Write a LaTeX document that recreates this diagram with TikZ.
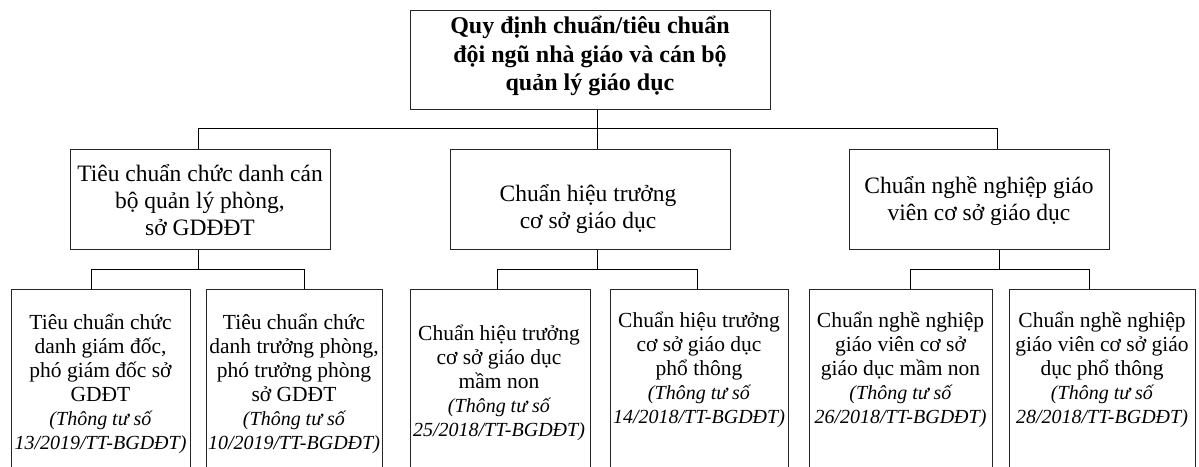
\documentclass[tikz,border=0pt]{standalone}
\usepackage{fontspec}
\setmainfont{Liberation Serif}
\newcommand\lawfont{\fontsize{20}{24}\selectfont\itshape}
\begin{document}
\begin{tikzpicture}[x=1pt,y=-1pt,
  box/.style={draw=black!85, line width=0.9pt, inner sep=0pt, anchor=north west},
  link/.style={draw=black, line width=1pt},
  toptxt/.style={align=center, inner sep=0pt, font=\fontsize{24}{28.5}\selectfont\bfseries},
  midtxt/.style={align=center, inner sep=0pt, font=\fontsize{23.5}{27}\selectfont},
  lowtxt/.style={align=center, inner sep=0pt, font=\fontsize{21.5}{24}\selectfont}]
\useasboundingbox (0,0) rectangle (1199,466);
\clip (0,0) rectangle (1199,466);

% top level
\node[box, minimum width=360, minimum height=99] (top) at (410,10) {};
\node[toptxt] (topt) at (590,56) {Quy định chuẩn/tiêu chuẩn\\đội ngũ nhà giáo và cán bộ\\quản lý giáo dục};

% second level
\node[box, minimum width=260, minimum height=100] (m1) at (70,149) {};
\node[box, minimum width=280, minimum height=100] (m2) at (450,149) {};
\node[box, minimum width=260, minimum height=100] (m3) at (849,149) {};
\node[midtxt] (m1t) at (200,200) {Tiêu chuẩn chức danh cán\\bộ quản lý phòng,\\sở GDĐĐT};
\node[midtxt] (m2t) at (588,209) {Chuẩn hiệu trưởng\\cơ sở giáo dục};
\node[midtxt] (m3t) at (979,201) {Chuẩn nghề nghiệp giáo\\viên cơ sở giáo dục};

% third level (boxes run past the lower edge)
\node[box, minimum width=179, minimum height=200] (b1) at (11,289) {};
\node[box, minimum width=176, minimum height=200] (b2) at (206,289) {};
\node[box, minimum width=180, minimum height=200] (b3) at (410,289) {};
\node[box, minimum width=178, minimum height=200] (b4) at (610,289) {};
\node[box, minimum width=183, minimum height=200] (b5) at (809,289) {};
\node[box, minimum width=186, minimum height=200] (b6) at (1009,289) {};

\node[lowtxt] (b1t) at (100.5,384) {Tiêu chuẩn chức\\danh giám đốc,\\phó giám đốc sở\\GDĐT\\{\lawfont (Thông tư số}\\{\lawfont 13/2019/TT-BGDĐT)}};
\node[lowtxt] (b2t) at (294,384) {Tiêu chuẩn chức\\danh trưởng phòng,\\phó trưởng phòng\\sở GDĐT\\{\lawfont (Thông tư số}\\{\lawfont 10/2019/TT-BGDĐT)}};
\node[lowtxt] (b3t) at (499,383) {Chuẩn hiệu trưởng\\cơ sở giáo dục\\mầm non\\{\lawfont (Thông tư số}\\{\lawfont 25/2018/TT-BGDĐT)}};
\node[lowtxt] (b4t) at (699,370) {Chuẩn hiệu trưởng\\cơ sở giáo dục\\phổ thông\\{\lawfont (Thông tư số}\\{\lawfont 14/2018/TT-BGDĐT)}};
\node[lowtxt] (b5t) at (900.5,370) {Chuẩn nghề nghiệp\\giáo viên cơ sở\\giáo dục mầm non\\{\lawfont (Thông tư số}\\{\lawfont 26/2018/TT-BGDĐT)}};
\node[lowtxt] (b6t) at (1102,370) {Chuẩn nghề nghiệp\\giáo viên cơ sở giáo\\dục phổ thông\\{\lawfont (Thông tư số}\\{\lawfont 28/2018/TT-BGDĐT)}};

% connectors: top -> second level
\draw[link] ([xshift=7pt]top.south) -- ([xshift=7pt]m2.north);
\draw[link] ([xshift=-2pt]m1.north) -- ++(0,-21) -| ([xshift=18pt]m3.north);

% connectors: second -> third level
\draw[link] ([xshift=-2pt]m1.south) -- ++(0,20);
\draw[link] ([xshift=-9.5pt]b1.north) -- ++(0,-20) -| ([xshift=10pt]b2.north);
\draw[link] ([xshift=7pt]m2.south) -- ++(0,20);
\draw[link] ([xshift=-3pt]b3.north) -- ++(0,-20) -| ([xshift=-2pt]b4.north);
\draw[link] ([xshift=20pt]m3.south) -- ++(0,20);
\draw[link] ([xshift=9.5pt]b5.north) -- ++(0,-20) -| ([xshift=-13pt]b6.north);
\end{tikzpicture}
\end{document}
